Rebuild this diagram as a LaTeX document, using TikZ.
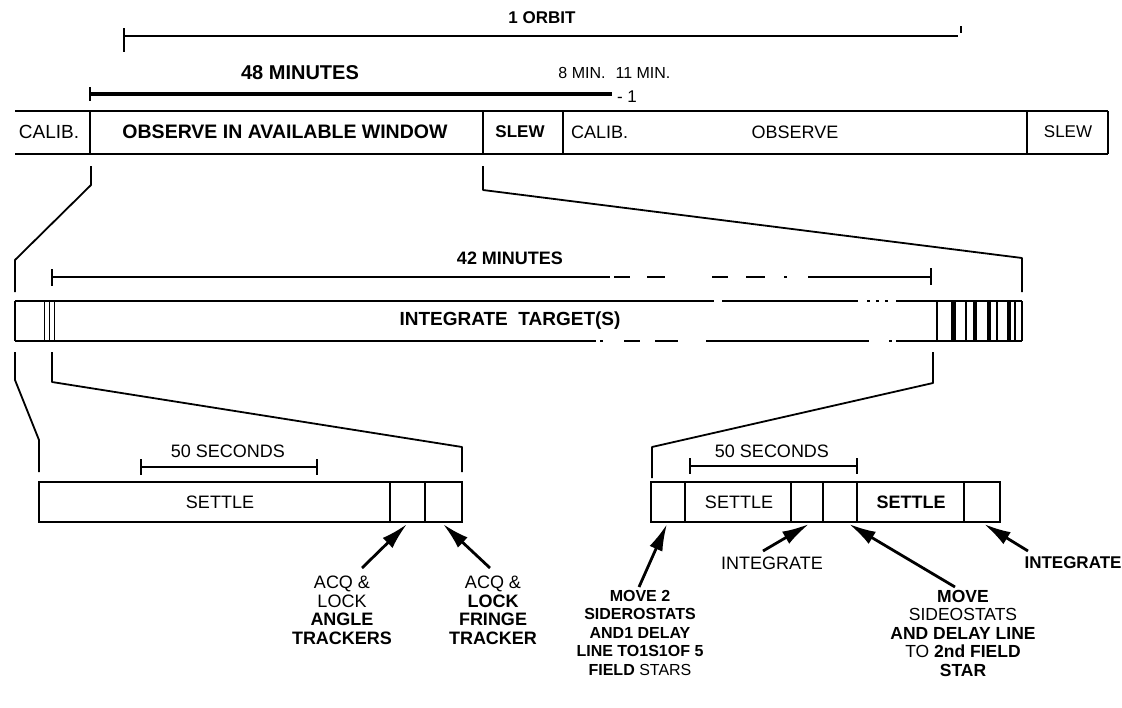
\documentclass[tikz,border=0pt]{standalone}
\usepackage{fontspec}
\setmainfont{Liberation Sans}
\usetikzlibrary{arrows.meta}
\tikzset{>={Latex[length=27pt,width=14pt]}}
\tikzset{
  txt/.style={inner sep=0pt, font=\fontsize{18}{18.5}\selectfont},
  btxt/.style={inner sep=0pt, font=\fontsize{18}{18.5}\selectfont\bfseries},
  barln/.style={line width=1.5pt},
  baseln/.style={line width=2.6pt},
  dimln/.style={line width=1.5pt},
  zoomln/.style={line width=1.8pt, line join=round},
  callout/.style={line width=2.8pt, ->},
}

\begin{document}
\begin{tikzpicture}[x=1pt,y=1pt,yscale=-1]
\useasboundingbox (0,0) rectangle (1122,707);

%Dimension: one orbit
\node[btxt, font=\fontsize{17}{18}\selectfont\bfseries] (orbit) at (542,18) {1 ORBIT};
\draw [line width=2.6pt] (124,36) -- (958,36) ;
\draw [dimln] (124,28) -- (124,52) ;
\draw [line width=2pt] (961,26) -- (961,33) ;

%Dimension: 48 minutes
\node[btxt, font=\fontsize{20}{20}\selectfont\bfseries] (min48) at (300,73) {48 MINUTES};
\node[txt, font=\fontsize{16}{16}\selectfont] (min8) at (582,73) {8 MIN.};
\node[txt, font=\fontsize{16}{16}\selectfont] (min11) at (643,73) {11 MIN.};
\draw [line width=3.5pt] (90,94) -- (612,94) ;
\draw [dimln] (90,87) -- (90,101) ;
\node[txt, font=\fontsize{17}{18}\selectfont] (endmark) at (627,97) {- 1};

%Bar: one orbit
\draw [barln] (15,111) -- (1108,111) ;
\draw [baseln] (15,154) -- (1108,154) ;
\foreach \x in {90,483,563,1027,1108}
  \draw [barln] (\x,111) -- (\x,154) ;
\node[txt, font=\fontsize{19}{19}\selectfont] (calA) at (49,132) {CALIB.};
\node[btxt, font=\fontsize{19.5}{20}\selectfont\bfseries] (obsA) at (285,132) {OBSERVE IN AVAILABLE WINDOW};
\node[btxt, font=\fontsize{17}{18}\selectfont\bfseries] (slewA) at (520,132) {SLEW};
\node[txt, anchor=west] (calB) at (571,132) {CALIB.};
\node[txt] (obsB) at (795,132) {OBSERVE};
\node[txt, font=\fontsize{17}{18}\selectfont] (slewB) at (1068,132) {SLEW};

%Zoom lines to window
\draw [zoomln] (91,166) -- (91,185) -- (15,260) -- (15,292) ;
\draw [zoomln] (483,166) -- (483,190) -- (1022,258) -- (1022,292) ;

%Dimension: 42 minutes
\node[btxt] (min42) at (510,258) {42 MINUTES};
\draw [dimln] (52,277) -- (610,277) ;
\foreach \a/\b in {614/630,647/665,712/728,746/765,784/787}
  \draw [dimln] (\a,277) -- (\b,277) ;
\draw [dimln] (808,277) -- (931,277) ;
\draw [dimln] (52,269) -- (52,286) ;
\draw [dimln] (931,268) -- (931,285) ;

%Bar: window
\draw [barln] (15,301) -- (714,301) ;
\foreach \a/\b in {722/858,867/870,876/879,885/888,896/1022}
  \draw [barln] (\a,301) -- (\b,301) ;
\foreach \a/\b in {15/596,600/603,624/640,655/678,706/869,889/892,896/1022}
  \draw [baseln] (\a,341) -- (\b,341) ;
\draw [barln] (15,301) -- (15,341) ;
\foreach \x in {44,49,54}
  \draw [line width=1pt] (\x,301) -- (\x,341) ;
\foreach \x/\w in {937/2.8,953/5,966/1.2,975/3.2,989/3.2,997/1.2,1009/3.2,1015/1.2,1022/1.8}
  \draw [line width=\w pt] (\x,301) -- (\x,341) ;
\node[btxt, font=\fontsize{19}{19}\selectfont\bfseries] (integ) at (510,321) {INTEGRATE\ \ TARGET(S)};

%Zoom lines to start and end
\draw [zoomln] (15,352) -- (15,380) -- (39,440) -- (39,472) ;
\draw [zoomln] (52,352) -- (52,382) -- (462,447) -- (462,472) ;
\draw [zoomln] (933,352) -- (933,383) -- (652,447) -- (652,478) ;

%Bar: start of window
\node[txt] (secA) at (228,451) {50 SECONDS};
\draw [dimln] (141,467) -- (317,467) ;
\draw [dimln] (141,459) -- (141,475) ;
\draw [dimln] (317,459) -- (317,475) ;
\draw [barln] (39,482) rectangle (462,522) ;
\foreach \x in {390,425}
  \draw [barln] (\x,482) -- (\x,522) ;
\node[txt] (settleA) at (220,502) {SETTLE};

%Bar: end of window
\node[txt] (secB) at (772,451) {50 SECONDS};
\draw [dimln] (690,466) -- (857,466) ;
\draw [dimln] (690,458) -- (690,474) ;
\draw [dimln] (857,458) -- (857,474) ;
\draw [barln] (651,482) rectangle (1000,522) ;
\foreach \x in {685,791,823,857,964}
  \draw [barln] (\x,482) -- (\x,522) ;
\node[txt] (settleB) at (739,502) {SETTLE};
\node[btxt] (settleC) at (911,502) {SETTLE};

%Callout labels
\node[txt, align=center, anchor=north] (acqA) at (342,576) {ACQ \&\\LOCK\\\textbf{ANGLE}\\\textbf{TRACKERS}};
\node[txt, align=center, anchor=north] (acqB) at (493,576) {ACQ \&\\\textbf{LOCK}\\\textbf{FRINGE}\\\textbf{TRACKER}};
\node[btxt, font=\fontsize{16}{18.5}\selectfont\bfseries, align=center, anchor=north] (moveA) at (640,590) {MOVE 2\\SIDEROSTATS\\AND1 DELAY\\LINE TO1S1OF 5\\FIELD \mdseries STARS};
\node[txt] (intA) at (772,563) {INTEGRATE};
\node[txt, font=\fontsize{17.5}{18.5}\selectfont, align=center, anchor=north] (moveB) at (963,590) {\textbf{MOVE}\\SIDEOSTATS\\\textbf{AND DELAY LINE}\\TO \textbf{2nd FIELD}\\\textbf{STAR}};
\node[btxt, font=\fontsize{17}{18}\selectfont\bfseries] (intB) at (1073,563) {INTEGRATE};

%Callout ends
\coordinate (acqA-tip) at (407,524);
\coordinate (acqA-end) at (362,568);
\coordinate (acqB-tip) at (443,524);
\coordinate (acqB-end) at (490,568);
\coordinate (moveA-tip) at (667,524);
\coordinate (moveA-end) at (639,587);
\coordinate (intA-tip) at (809,524);
\coordinate (intA-end) at (763,551);
\coordinate (moveB-tip) at (849,524);
\coordinate (moveB-end) at (955,587);
\coordinate (intB-tip) at (984,524);
\coordinate (intB-end) at (1028,551);

%Callout arrows
\foreach \n in {acqA,acqB,moveA,intA,moveB,intB}
  \draw [callout] (\n-end) -- (\n-tip) ;
\end{tikzpicture}
\end{document}
